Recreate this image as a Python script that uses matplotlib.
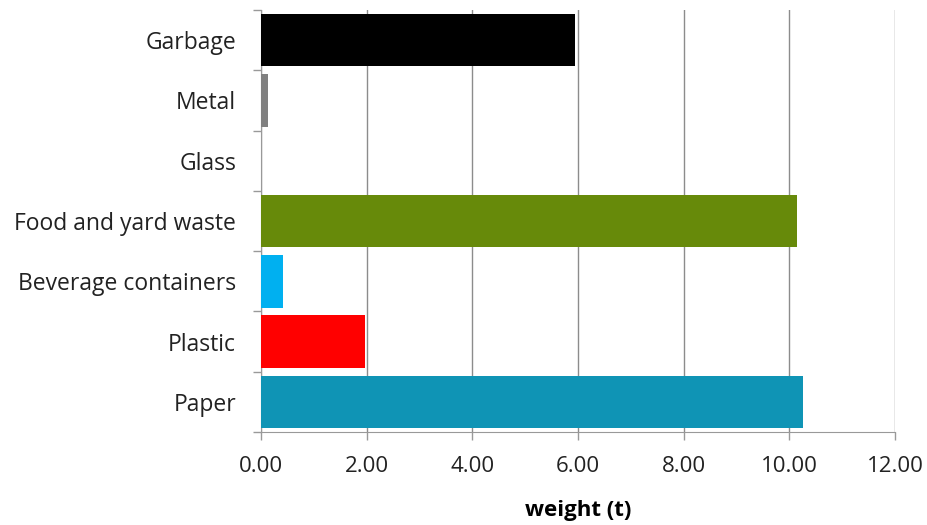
import matplotlib
matplotlib.use('Agg')
import matplotlib.pyplot as plt
from matplotlib.ticker import FormatStrFormatter, FixedLocator

plt.rcParams['font.family'] = ['Open Sans', 'DejaVu Sans']

categories = ['Paper', 'Plastic', 'Beverage containers', 'Food and yard waste',
              'Glass', 'Metal', 'Garbage']
weights = [10.25, 1.97, 0.42, 10.15, 0.0, 0.14, 5.95]
bar_colors = ['#0f94b5', '#ff0000', '#00b0f0', '#678a0a', '#ffffff', '#808080', '#000000']

fig = plt.figure(figsize=(9.27, 5.25), dpi=100)
ax = fig.add_axes([0.2816, 0.177, 0.6839, 0.804])

ypos = list(range(len(categories)))
ax.barh(ypos, weights, height=0.87, color=bar_colors, zorder=3)

ax.set_xlim(0, 12)
ax.set_ylim(-0.5, len(categories) - 0.5)
ax.set_xticks([0, 2, 4, 6, 8, 10, 12])
ax.xaxis.set_major_formatter(FormatStrFormatter('%.2f'))
ax.set_yticks(ypos)
ax.set_yticklabels(categories)
# category boundary ticks, like the spreadsheet original
ax.yaxis.set_minor_locator(FixedLocator([i - 0.5 for i in range(len(categories) + 1)]))
ax.tick_params(axis='y', which='major', length=0, labelsize=16.5, pad=18, colors='#222222')
ax.tick_params(axis='y', which='minor', length=6, color='#999999', width=1)
ax.tick_params(axis='x', length=6, color='#999999', width=1, labelsize=16, pad=11)
ax.tick_params(axis='x', colors='#999999', labelcolor='#222222')

ax.grid(axis='x', color='#8c8c8c', linewidth=1, zorder=0)
for s in ['top', 'right']:
    ax.spines[s].set_visible(False)
ax.spines['left'].set_color('#999999')
ax.spines['bottom'].set_color('#999999')

ax.set_xlabel('weight (t)', fontsize=16, fontweight='bold', labelpad=17)

fig.savefig('out.png', dpi=100)
